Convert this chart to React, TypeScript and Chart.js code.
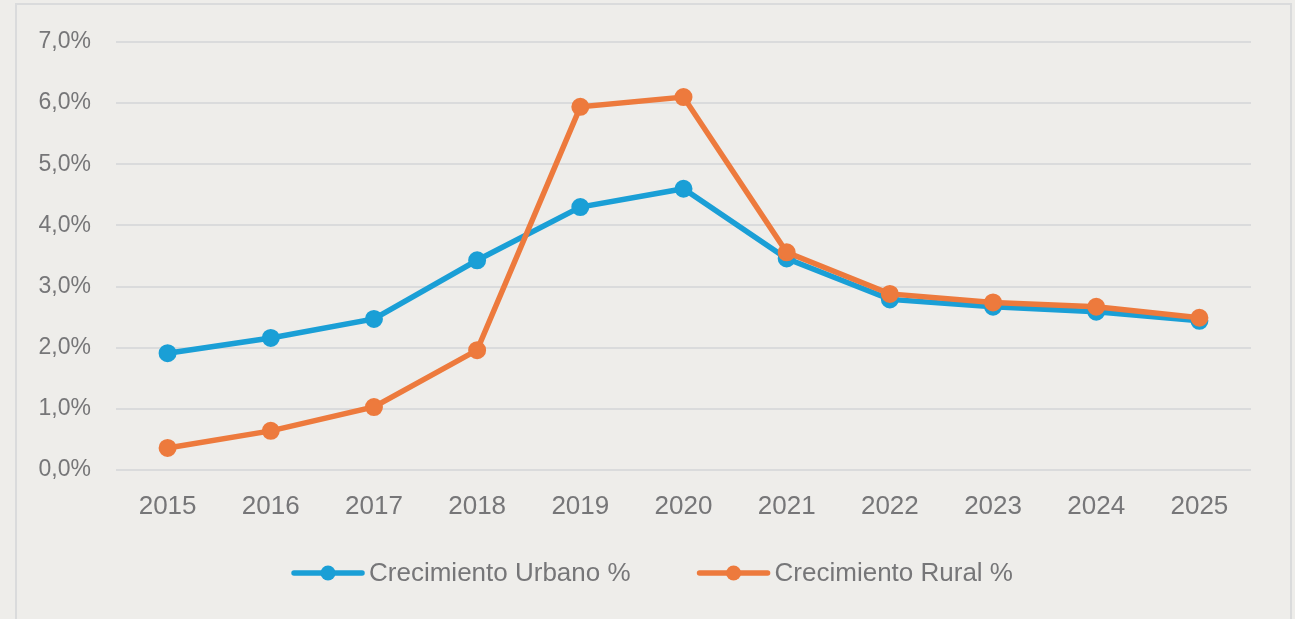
import React, { useEffect, useRef } from "react";
import { Chart, registerables } from "chart.js";

Chart.register(...registerables);

const years = ["2015", "2016", "2017", "2018", "2019", "2020", "2021", "2022", "2023", "2024", "2025"];
const urbanGrowth = [1.91, 2.16, 2.47, 3.43, 4.3, 4.6, 3.46, 2.79, 2.67, 2.59, 2.44];
const ruralGrowth = [0.36, 0.64, 1.03, 1.96, 5.94, 6.1, 3.56, 2.88, 2.74, 2.67, 2.49];
const seriesLabels = ["Crecimiento Urbano %", "Crecimiento Rural %"];
const seriesColors = ["#1A9FD6", "#ED7A3D"];
const yTicks = [0, 1, 2, 3, 4, 5, 6, 7];

const TEXT = "#767678";
const GRID = "#DADBDC";
const BG = "#EEEDEA";
const FONT = "'Liberation Sans', Arial, sans-serif";

const customLegend = {
  id: "customLegend",
  afterDraw(chart: any) {
    const ctx = chart.ctx;
    const fontSize = 26;
    ctx.save();
    ctx.font = `${fontSize}px ${FONT}`;
    const lineLen = 72;
    const gapText = 5;
    const itemGap = 67;
    const items = chart.data.datasets.map((ds: any) => ({
      label: ds.label,
      color: ds.borderColor,
      w: lineLen + gapText + ctx.measureText(ds.label).width,
    }));
    const total = items.reduce((s: number, it: any) => s + it.w, 0) + itemGap * (items.length - 1);
    let x = chart.width / 2 - total / 2 + 5;
    const y = 573;
    for (const it of items) {
      ctx.strokeStyle = it.color;
      ctx.lineWidth = 5.5;
      ctx.lineCap = "round";
      ctx.beginPath();
      ctx.moveTo(x + 2, y);
      ctx.lineTo(x + lineLen - 2, y);
      ctx.stroke();
      ctx.fillStyle = it.color;
      ctx.beginPath();
      ctx.arc(x + lineLen / 2, y, 7.5, 0, Math.PI * 2);
      ctx.fill();
      ctx.fillStyle = TEXT;
      ctx.textBaseline = "middle";
      ctx.textAlign = "left";
      ctx.fillText(it.label, x + lineLen + gapText, y + 1);
      x += it.w + itemGap;
    }
    ctx.restore();
  },
};

export default function App() {
  const ref = useRef<HTMLCanvasElement | null>(null);
  useEffect(() => {
    if (!ref.current) return;
    const chart = new Chart(ref.current, {
      type: "line",
      data: {
        labels: years,
        datasets: [
          {
            label: seriesLabels[0],
            data: urbanGrowth,
            borderColor: seriesColors[0],
            backgroundColor: seriesColors[0],
            borderWidth: 5.5,
            pointRadius: 8,
            pointBorderWidth: 2,
            pointBackgroundColor: seriesColors[0],
            pointBorderColor: seriesColors[0],
            tension: 0,
            order: 1,
          },
          {
            label: seriesLabels[1],
            data: ruralGrowth,
            borderColor: seriesColors[1],
            backgroundColor: seriesColors[1],
            borderWidth: 5.5,
            pointRadius: 8,
            pointBorderWidth: 2,
            pointBackgroundColor: seriesColors[1],
            pointBorderColor: seriesColors[1],
            tension: 0,
            order: 0,
          },
        ],
      },
      options: {
        animation: false,
        responsive: false,
        devicePixelRatio: 1,
        layout: { padding: { top: 42, right: 44, bottom: 0, left: 0 } },
        plugins: {
          legend: { display: false },
          tooltip: { enabled: false },
        },
        scales: {
          x: {
            offset: true,
            grid: { display: false, drawTicks: false },
            border: { display: false },
            ticks: {
              color: TEXT,
              font: { family: FONT, size: 26 },
              padding: 21,
              maxRotation: 0,
            },
            afterFit(scale: any) {
              scale.height = 149;
            },
          },
          y: {
            min: 0,
            max: 7,
            afterBuildTicks(scale: any) {
              scale.ticks = yTicks.map((v) => ({ value: v }));
            },
            grid: { color: GRID, lineWidth: 2, drawTicks: false },
            border: { display: false },
            ticks: {
              color: TEXT,
              font: { family: FONT, size: 23 },
              padding: 25,
              callback: (v: any) => Number(v).toFixed(1).replace(".", ",") + "%",
            },
            afterFit(scale: any) {
              scale.width = 116;
            },
          },
        },
      },
      plugins: [customLegend],
    });
    return () => chart.destroy();
  }, []);

  return (
    <div style={{ position: "fixed", left: 0, top: 0, width: 1295, height: 619, background: BG, overflow: "hidden" }}>
      <div
        style={{
          position: "absolute",
          left: 15,
          top: 3,
          width: 1273,
          height: 700,
          border: `2px solid ${GRID}`,
        }}
      />
      <canvas ref={ref} width={1295} height={619} style={{ position: "absolute", left: 0, top: 0 }} />
    </div>
  );
}
